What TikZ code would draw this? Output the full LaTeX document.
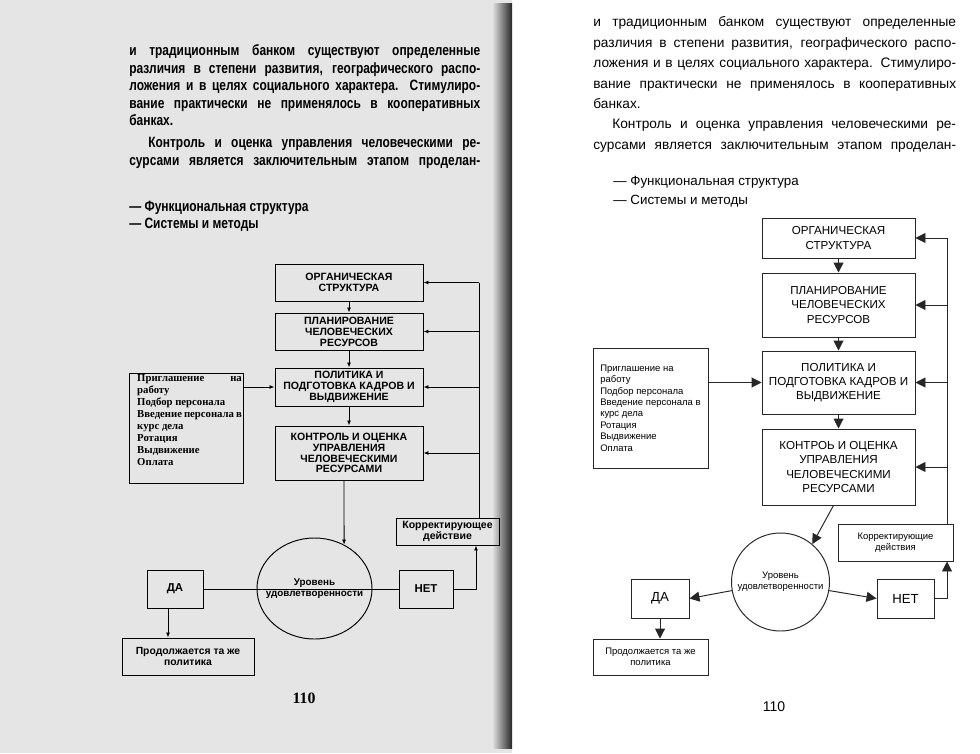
\documentclass[tikz,border=0pt]{standalone}
\usepackage{fontspec}
\setmainfont{Liberation Sans}
\newfontfamily\bookserif{Liberation Serif}
\usepackage{graphicx}
\usetikzlibrary{arrows.meta,shapes.geometric}

\newcommand\scannarrow[1]{\scalebox{0.8}[1]{#1}}

\begin{document}
\begin{tikzpicture}[x=0.2mm,y=-0.2mm,
 lbox/.style={draw,line width=0.55pt,inner sep=0pt,align=center,
  font=\bfseries\fontsize{6}{6.2}\selectfont},
 larr/.style={-{Latex[length=1mm,width=0.8mm]},line width=0.5pt},
 rbox/.style={draw=black!85,line width=0.55pt,inner sep=0pt,align=center,
  font=\fontsize{6.6}{8.1}\selectfont},
 rnote/.style={rbox,font=\fontsize{5.4}{6.5}\selectfont},
 rarr/.style={-{Triangle[length=2mm,width=2mm]},draw=black!85,line width=0.55pt}]
 \useasboundingbox (0,0) rectangle (980,753);
 % the two pages
 \fill[white] (0,0) rectangle (980,753);
 \fill[black!10] (0,0) rectangle (512,753);
 \shade[left color=black!10,right color=black!85] (492,4) rectangle (512,748);

 % left page (scan)
 \node[anchor=base west,inner sep=0pt] (ltext) at (129,56) {\scannarrow{\parbox[t]{249.6pt}{\bfseries\fontsize{8.5}{9.95}\selectfont
 и традиционным банком существуют определенные\linebreak
 различия в степени развития, географического распо-\linebreak
 ложения и в целях социального характера. Стимулиро-\linebreak
 вание практически не применялось в кооперативных\linebreak
 банках.\par
 \vspace{2.6pt}{\parfillskip=0pt\hspace*{13.5pt}Контроль и оценка управления человеческими ре-\linebreak
 сурсами является заключительным этапом проделан-\par}}}};
 \node[anchor=base west,inner sep=0pt] (lhead1) at (129,211) {\scannarrow{\bfseries\fontsize{8.5}{9.95}\selectfont — Функциональная структура}};
 \node[anchor=base west,inner sep=0pt] (lhead2) at (129,228) {\scannarrow{\bfseries\fontsize{8.5}{9.95}\selectfont — Системы и методы}};

 \node[lbox,minimum width=29.6mm,minimum height=7.4mm] (lorg) at (349,282.5) {ОРГАНИЧЕСКАЯ\\СТРУКТУРА};
 \node[lbox,minimum width=29.6mm,minimum height=7.4mm] (lplan) at (349,331.5) {ПЛАНИРОВАНИЕ\\ЧЕЛОВЕЧЕСКИХ\\РЕСУРСОВ};
 \node[lbox,minimum width=29.6mm,minimum height=7.6mm] (lpol) at (349,387) {ПОЛИТИКА И\\ПОДГОТОВКА КАДРОВ И\\ВЫДВИЖЕНИЕ};
 \node[lbox,minimum width=29.6mm,minimum height=10.8mm] (lkon) at (349,453) {КОНТРОЛЬ И ОЦЕНКА\\УПРАВЛЕНИЯ\\ЧЕЛОВЕЧЕСКИМИ\\РЕСУРСАМИ};
 \node[draw,line width=0.55pt,inner sep=0pt,minimum width=22.8mm,minimum height=22mm] (llist) at (186,428)
  {\hspace*{4.5pt}\parbox[c][21.4mm][t]{59.5pt}{\bookserif\bfseries\fontsize{6.1}{6.83}\selectfont
  Приглашение на\linebreak работу\\ Подбор персонала\\ Введение персонала в\linebreak курс дела\\ Ротация\\ Выдвижение\\ Оплата}\hspace*{0.5pt}};
 \node[lbox,minimum width=20.6mm,minimum height=5.4mm] (lcorr) at (447.5,531.5) {Корректирующее\\действие};
 \node[ellipse,draw,line width=0.55pt,inner sep=0pt,minimum width=23mm,minimum height=20.2mm,
  font=\bfseries\fontsize{5.6}{6.1}\selectfont] (llevel) at (314.5,588.5)
  {\makebox[0pt]{\begin{tabular}{@{}c@{}}Уровень\\удовлетворенности\end{tabular}}};
 \node[lbox,minimum width=11.2mm,minimum height=7.6mm,font=\bfseries\fontsize{6.5}{7}\selectfont] (lda) at (175,589) {ДА};
 \node[lbox,minimum width=10.8mm,minimum height=7.6mm,font=\bfseries\fontsize{6.5}{7}\selectfont] (lnet) at (426,589) {НЕТ};
 \node[lbox,minimum width=26.4mm,minimum height=7.4mm,font=\bfseries\fontsize{5.9}{6.4}\selectfont] (lcont) at (188,656.5) {Продолжается та же\\политика};
 \node[font=\bookserif\bfseries\fontsize{9}{10}\selectfont] (lpage) at (304,698) {110};

 \coordinate (lfb) at (479,0);
 \coordinate (lup) at (476,0);
 \draw[line width=0.5pt] (lcorr.north -| lfb) -- (lorg.east -| lfb);
 \foreach \n in {lorg,lplan,lpol,lkon}
  \draw[larr] (\n.east -| lfb) -- (\n.east);
 \draw[larr] (lorg) -- (lplan);
 \draw[larr] (lplan) -- (lpol);
 \draw[larr] (lpol) -- (lkon);
 \draw[larr] ([xshift=-1mm]lkon.south) -- (llevel.56);
 \draw[larr] (llist.east |- lpol.west) -- (lpol.west);
 \draw[line width=0.5pt] (lda.east) -- (lnet.west);
 \draw[larr] (lnet.east) -| (lcorr.south -| lup);
 \draw[larr] ([xshift=-1.4mm]lda.south) -- ([xshift=-1.4mm]lda.south |- lcont.north);

 % right page
 \node[anchor=base west,inner sep=0pt] (rtext) at (593,27) {\parbox[t]{206.4pt}{\fontsize{7.8}{11.6}\selectfont
 и традиционным банком существуют определенные\linebreak
 различия в степени развития, географического распо-\linebreak
 ложения и в целях социального характера. Стимулиро-\linebreak
 вание практически не применялось в кооперативных\linebreak
 банках.\par
 {\parfillskip=0pt\hspace*{10.8pt}Контроль и оценка управления человеческими ре-\linebreak
 сурсами является заключительным этапом проделан-\par}}};
 \node[anchor=base west,inner sep=0pt,font=\fontsize{7.6}{11.6}\selectfont] (rhead1) at (613,185) {— Функциональная структура};
 \node[anchor=base west,inner sep=0pt,font=\fontsize{7.6}{11.6}\selectfont] (rhead2) at (613,204) {— Системы и методы};

 \node[rbox,minimum width=30.6mm,minimum height=8mm] (rorg) at (838.5,238) {ОРГАНИЧЕСКАЯ\\СТРУКТУРА};
 \node[rbox,minimum width=30.6mm,minimum height=12.8mm] (rplan) at (838.5,305) {ПЛАНИРОВАНИЕ\\ЧЕЛОВЕЧЕСКИХ\\РЕСУРСОВ};
 \node[rbox,minimum width=30.6mm,minimum height=12.6mm] (rpol) at (838.5,382.5) {ПОЛИТИКА И\\ПОДГОТОВКА КАДРОВ И\\ВЫДВИЖЕНИЕ};
 \node[rbox,minimum width=30.6mm,minimum height=15.2mm] (rkon) at (838.5,467) {КОНТРОЬ И ОЦЕНКА\\УПРАВЛЕНИЯ\\ЧЕЛОВЕЧЕСКИМИ\\РЕСУРСАМИ};
 \node[rnote,align=left,minimum width=23mm,minimum height=24mm] (rlist) at (650.5,408)
  {Приглашение на\\работу\\Подбор персонала\\Введение персонала в\\курс дела\\Ротация\\Выдвижение\\Оплата};
 \node[rnote,minimum width=23mm,minimum height=7.4mm] (rcorr) at (895.5,542.5) {Корректирующие\\действия};
 \node[rnote,circle,minimum size=19.6mm] (rlevel) at (780.5,582) {Уровень\\удовлетворенности};
 \node[rbox,minimum width=11.6mm,minimum height=7.8mm,font=\fontsize{7.5}{8}\selectfont] (rda) at (660,598.5) {ДА};
 \node[rbox,minimum width=11.4mm,minimum height=7.8mm,font=\fontsize{7.5}{8}\selectfont] (rnet) at (905.5,598.5) {НЕТ};
 \node[rnote,minimum width=23mm,minimum height=7.2mm] (rcont) at (650.5,657) {Продолжается та же\\политика};
 \node[font=\fontsize{8}{9}\selectfont] (rpage) at (774,707) {110};

 \coordinate (rfb) at (947,0);
 \draw[draw=black!85,line width=0.55pt] (rcorr.north -| rfb) -- (rorg.east -| rfb);
 \foreach \n in {rorg,rplan,rpol,rkon}
  \draw[rarr] (\n.east -| rfb) -- (\n.east);
 \draw[rarr] (rorg) -- (rplan);
 \draw[rarr] (rplan) -- (rpol);
 \draw[rarr] (rpol) -- (rkon);
 \draw[rarr] (rlist.east |- rpol.west) -- (rpol.west);
 \draw[rarr] ([xshift=-1mm]rkon.south) -- (rlevel.50);
 \draw[rarr] (rlevel.190) -- (rda.east);
 \draw[rarr] (rlevel.350) -- (rnet.west);
 \draw[rarr] (rnet.east) -| (rcorr.south -| rfb);
 \draw[rarr] (rda.south) -- (rda.south |- rcont.north);
\end{tikzpicture}
\end{document}
